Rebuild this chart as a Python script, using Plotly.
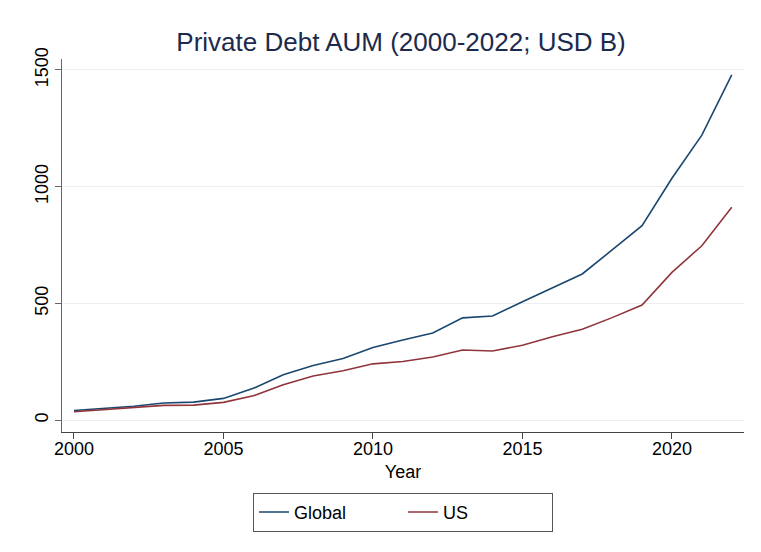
import plotly.graph_objects as go

years = list(range(2000, 2023))
global_aum = [41, 50, 59, 73, 77, 93, 136, 194, 234, 264, 311, 343, 373,
              438, 446, 507, 567, 626, 729, 833, 1036, 1221, 1479]
us_aum = [36, 44, 53, 63, 64, 76, 104, 151, 189, 211, 241, 251, 270,
          300, 296, 321, 357, 389, 439, 493, 633, 747, 912]

FONT = "Liberation Sans, Arial, Helvetica, sans-serif"

fig = go.Figure()
fig.add_trace(go.Scatter(x=years, y=global_aum, mode="lines", name="Global",
                         line=dict(color="#1a476f", width=1.6)))
fig.add_trace(go.Scatter(x=years, y=us_aum, mode="lines", name="US",
                         line=dict(color="#90353b", width=1.6)))

fig.update_layout(
    width=753, height=544,
    paper_bgcolor="white", plot_bgcolor="white",
    margin=dict(l=54, r=17, t=51, b=120),
    font=dict(family=FONT, color="black", size=18),
    title=dict(text="Private Debt AUM (2000-2022; USD B)", x=0.522, xanchor="center",
               y=0.9375, yanchor="middle",
               font=dict(family=FONT, size=26, color="#1c2a4d")),
    showlegend=True,
    legend=dict(orientation="h", x=0.5, xanchor="center", y=-0.163, yanchor="top",
                bordercolor="#555555", borderwidth=1, bgcolor="white",
                font=dict(size=18, color="black"), entrywidth=104,
                entrywidthmode="pixels"),
    xaxis=dict(range=[1999.6, 2022.41], tickvals=[2000, 2005, 2010, 2015, 2020],
               showgrid=False, zeroline=False, showline=True, linecolor="#444444",
               linewidth=1.2, ticks="outside", ticklen=6, tickcolor="#444444",
               ticklabelstandoff=-6,
               title=dict(text="Year", standoff=7, font=dict(size=18))),
    yaxis=dict(range=[-51, 1547], tickvals=[0, 500, 1000, 1500], tickangle=-90,
               showgrid=True, gridcolor="#eaf0f2", gridwidth=1, zeroline=False,
               showline=True, linecolor="#666666", linewidth=1.2,
               ticks="outside", ticklen=6, tickcolor="#666666"),
)

fig.write_html("out.html")
